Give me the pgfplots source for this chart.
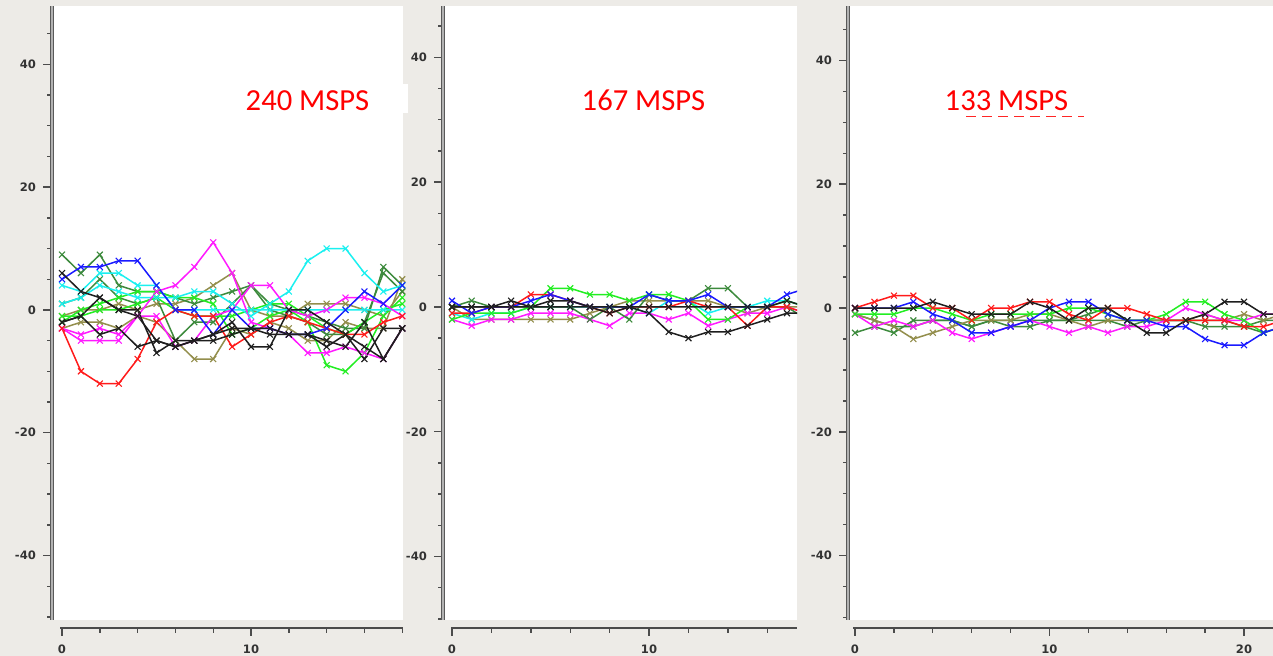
\documentclass[border=0pt]{standalone}
\usepackage{fontspec}
\newfontfamily\tickfont{DejaVu Sans}
\newfontfamily\calibri{Carlito}
\usepackage{pgfplots}
\usepackage{pgfplotstable}
\pgfplotsset{compat=1.18}

\definecolor{bgc}{HTML}{EDEBE7}
\definecolor{cR}{HTML}{FF1A1A}
\definecolor{cB}{HTML}{1A1AFF}
\definecolor{cL}{HTML}{22EE22}
\definecolor{cDG}{HTML}{3C8A3C}
\definecolor{cC}{HTML}{1AF0F0}
\definecolor{cM}{HTML}{FF1AFF}
\definecolor{cO}{HTML}{938E4C}
\definecolor{cK}{HTML}{1E1E1E}

% 240 MSPS
\pgfplotstableread{
x  R   B   C1  C2  M1  M2  DG1 DG2 L1  L2  O1  O2  K1  K2  K3
0  -3  5   4   1   -3  -3  9   1   -2  -1  -3  -1  6   -2  -2
1  -10 7   3   2   -5  -4  6   2   0   -1  -2  0   3   -1  -1
2  -12 7   6   4   -5  -3  9   5   1   0   -2  0   2   -4  2
3  -12 8   6   3   -5  -4  4   2   2   0   -3  1   0   -3  0
4  -8  8   4   2   -1  -1  3   1   3   1   -1  0   0   -6  -1
5  -2  4   4   2   3   -1  3   2   3   2   -2  1   -7  -5  -5
6  0   0   0   2   4   -6  2   -5  2   0   -5  1   -5  -6  -6
7  -1  0   0   3   7   -5  1   -2  2   -1  -8  2   -5  -5  -5
8  -1  -4  0   3   11  -1  2   -2  1   -1  -8  4   -4  -4  -5
9  -6  0   0   1   6   0   3   1   -4  -1  -3  6   -3  -2  -4
10 -4  -3  0   -1  -2  4   4   4   -3  0   -4  0   -3  -6  -3
11 -2  -3  0   1   -3  4   1   0   -1  1   -2  -1  -4  -6  -3
12 -1  -4  0   3   -4  0   0   -1  0   1   -3  -1  -4  0   -4
13 -2  -4  0   8   -7  -1  -1  -2  -2  -1  -5  1   -4  0   -4
14 -3  -3  0   10  -7  0   -2  -4  -9  -3  -5  1   -6  -2  -5
15 -4  0   0   10  -6  2   -3  -4  -10 -4  -2  1   -4  -4  -6
16 -4  3   0   6   -7  2   -3  -2  -7  -2  -3  0   -6  -8  -2
17 -2  1   0   3   -8  1   7   6   -1  0   -3  -1  -8  -3  -8
18 -1  4   0   4   -3  -1  4   3   2   1   5   3   -3  -3  -3
19 2   3   0   2   -5  -2  2   2   1   2   1   2   -4  -4  -2
}\fast

% 167 MSPS
\pgfplotstableread{
x  R  B  L  DG C  M  O  K1 K2
0  -1 1  -2 0  -1 -2 0  0  0
1  -1 -1 -1 1  -2 -3 -2 0  0
2  0  0  -1 0  -1 -2 -2 0  0
3  0  0  -1 0  -1 -2 -2 1  0
4  2  1  0  0  0  -1 -2 0  0
5  2  2  3  0  0  -1 -2 1  0
6  1  1  3  0  0  -1 -2 1  0
7  0  0  2  -2 0  -2 -1 0  0
8  -1 0  2  0  0  -3 0  -1 0
9  0  0  1  -2 0  -1 1  0  0
10 0  2  2  2  -1 -1 1  -1 0
11 0  1  2  1  1  -2 1  -4 0
12 1  1  1  1  1  -1 1  -5 0
13 0  2  -2 3  -1 -3 1  -4 0
14 0  0  -2 3  0  -2 0  -4 0
15 -3 0  0  0  0  -1 -1 -3 0
16 0  0  0  0  1  -1 0  -2 0
17 0  2  1  0  1  0  0  -1 1
18 -1 3  0  -2 0  -1 0  -1 0
}\mid

% 133 MSPS
\pgfplotstableread{
x  R  B  K  L  DG1 DG2 M  O
0  0  0  0  -1 -4  -1  -1 -1
1  1  0  0  -1 -3  -2  -3 -2
2  2  0  0  -1 -4  -3  -2 -3
3  2  1  0  0  -2  -3  -3 -5
4  0  -1 1  0  -2  -2  -2 -4
5  0  -2 0  -1 -2  -2  -4 -3
6  -2 -4 -1 -2 -3  -3  -5 -2
7  0  -4 -1 -1 -2  -2  -4 -2
8  0  -3 -1 -1 -3  -2  -3 -2
9  1  -2 1  -1 -3  -2  -2 -1
10 1  0  0  -1 -2  -2  -3 -1
11 -1 1  -2 0  -2  -2  -4 -2
12 -2 1  0  0  -2  -1  -3 -3
13 0  -1 0  -1 -2  0   -4 -2
14 0  -2 -2 -2 -3  -2  -3 -2
15 -1 -2 -4 -2 -2  -2  -3 -2
16 -2 -3 -4 -1 -2  -2  -2 -2
17 -2 -3 -2 1  -2  -2  0  -2
18 -2 -5 -1 1  -3  -2  -1 -1
19 -2 -6 1  -1 -3  -2  -2 -2
20 -3 -6 1  -2 -3  -3  -2 -1
21 -3 -4 -1 -4 -4  -2  -1 -2
22 -2 -3 -1 -3 -3  -2  -1 -1
}\slow

\pgfplotsset{
  panel/.style={
    scale only axis, anchor=south west,
    axis background/.style={fill=white},
    axis x line=none, axis y line*=left,
    ytick={-40,-20,0,20,40}, minor ytick={-50,-45,...,50},
    xtick=\empty,
    tick align=outside, major tick length=4.5pt, minor tick length=2.5pt,
    tick style={draw=black!70, line width=0.7pt},
    y axis line style={draw=black!65, line width=0.6pt, double=black!30, double distance=1.1pt},
    yticklabel style={font=\tickfont\bfseries\fontsize{5.8}{6}\selectfont, text=black!80},
    /pgf/number format/assume math mode=true,
  },
  xonly/.style={
    scale only axis, anchor=south west, height=2pt, ymin=0, ymax=1,
    axis x line*=bottom, axis y line=none, ytick=\empty,
    xtick={0,10,20}, minor xtick={0,2,...,22},
    tick align=outside, major tick length=4pt, minor tick length=2.5pt,
    tick style={draw=black!70, line width=0.7pt},
    x axis line style={draw=black!70, line width=0.9pt},
    xticklabel style={font=\tickfont\bfseries\fontsize{5.8}{6}\selectfont, text=black!80, yshift=-1pt},
    /pgf/number format/assume math mode=true,
  },
  ser/.style={mark=x, mark size=2.1pt, line width=0.75pt, mark options={line width=0.55pt}},
}

\begin{document}
\begin{tikzpicture}
\useasboundingbox (0,0) rectangle (636.5pt,328pt);
\clip (0,0) rectangle (636.5pt,328pt);
\fill[bgc] (0,0) rectangle (636.5pt,328pt);

% 133 MSPS
\begin{axis}[panel, at={(424pt,18pt)}, width=212.5pt, height=307pt,
  xmin=-0.36, xmax=21.49, ymin=-50.4, ymax=48.79]
\addplot[ser, cDG] table[x=x,y=DG1]{\slow};
\addplot[ser, cDG] table[x=x,y=DG2]{\slow};
\addplot[ser, cO] table[x=x,y=O]{\slow};
\addplot[ser, cM] table[x=x,y=M]{\slow};
\addplot[ser, cL] table[x=x,y=L]{\slow};
\addplot[ser, cB] table[x=x,y=B]{\slow};
\addplot[ser, cR] table[x=x,y=R]{\slow};
\addplot[ser, cK] table[x=x,y=K]{\slow};
\end{axis}
\begin{axis}[xonly, at={(426.5pt,14pt)}, width=210pt, xmin=-0.1, xmax=21.49]
\addplot[draw=none] coordinates {(0,0)};
\end{axis}

% 167 MSPS
\begin{axis}[panel, at={(221.5pt,18pt)}, width=177pt, height=307pt,
  xmin=-0.457, xmax=17.51, ymin=-50.16, ymax=48.24]
\addplot[ser, cO] table[x=x,y=O]{\mid};
\addplot[ser, cM] table[x=x,y=M]{\mid};
\addplot[ser, cC] table[x=x,y=C]{\mid};
\addplot[ser, cDG] table[x=x,y=DG]{\mid};
\addplot[ser, cL] table[x=x,y=L]{\mid};
\addplot[ser, cR] table[x=x,y=R]{\mid};
\addplot[ser, cB] table[x=x,y=B]{\mid};
\addplot[ser, cK] table[x=x,y=K1]{\mid};
\addplot[ser, cK] table[x=x,y=K2]{\mid};
\end{axis}
\begin{axis}[xonly, at={(225.5pt,14pt)}, width=173pt, xmin=-0.05, xmax=17.51]
\addplot[draw=none] coordinates {(0,0)};
\end{axis}

% 240 MSPS
\begin{axis}[panel, at={(26pt,18pt)}, width=175.5pt, height=307pt,
  xmin=-0.53, xmax=18.04, ymin=-50.5, ymax=49.5]
\addplot[ser, cO] table[x=x,y=O1]{\fast};
\addplot[ser, cO] table[x=x,y=O2]{\fast};
\addplot[ser, cDG] table[x=x,y=DG1]{\fast};
\addplot[ser, cDG] table[x=x,y=DG2]{\fast};
\addplot[ser, cL] table[x=x,y=L1]{\fast};
\addplot[ser, cL] table[x=x,y=L2]{\fast};
\addplot[ser, cC] table[x=x,y=C1]{\fast};
\addplot[ser, cC] table[x=x,y=C2]{\fast};
\addplot[ser, cM] table[x=x,y=M1]{\fast};
\addplot[ser, cM] table[x=x,y=M2]{\fast};
\addplot[ser, cR] table[x=x,y=R]{\fast};
\addplot[ser, cB] table[x=x,y=B]{\fast};
\addplot[ser, cK] table[x=x,y=K1]{\fast};
\addplot[ser, cK] table[x=x,y=K2]{\fast};
\addplot[ser, cK] table[x=x,y=K3]{\fast};
\end{axis}
\begin{axis}[xonly, at={(30pt,14pt)}, width=171.5pt, xmin=-0.106, xmax=18.04]
\addplot[draw=none] coordinates {(0,0)};
\end{axis}

% panel titles
\fill[white] (201.5pt,271.5pt) rectangle (204pt,286pt);
\node[anchor=base, text=red, inner sep=0pt, font=\calibri\fontsize{15.3}{18}\selectfont] at (153.75pt,272.5pt) {240 MSPS};
\node[anchor=base, text=red, inner sep=0pt, font=\calibri\fontsize{15.3}{18}\selectfont] at (321.75pt,272.5pt) {167 MSPS};
\node[anchor=base, text=red, inner sep=0pt, font=\calibri\fontsize{15.3}{18}\selectfont] at (503.25pt,272.5pt) {133 MSPS};
\draw[red!85, line width=0.4pt, dash pattern=on 5pt off 3pt] (483pt,270pt) -- (542pt,270pt);
\end{tikzpicture}
\end{document}
